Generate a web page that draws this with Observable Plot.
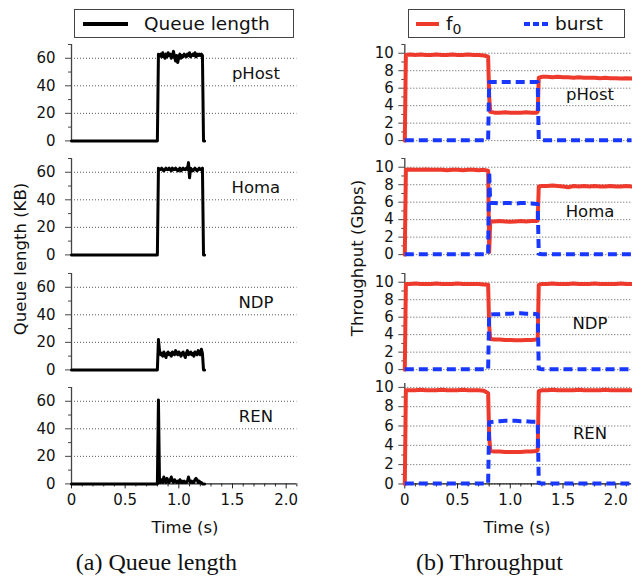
<!DOCTYPE html>
<html><head><meta charset="utf-8">
<script src="https://cdn.jsdelivr.net/npm/d3@7"></script>
<script src="https://cdn.jsdelivr.net/npm/@observablehq/plot@0.6"></script>
<style>
body{margin:0;background:#fff;}
#wrap{position:relative;width:632px;height:577px;overflow:hidden;font-family:"DejaVu Sans",sans-serif;}
#wrap svg{position:absolute;}
</style></head><body><div id="wrap"></div>
<script>
// ---------------- data ----------------
const schemes = ["pHost", "Homa", "NDP", "REN"];

// queue-length sample times (s)
const tQ = [0, 0.80, 0.81, 0.82, 0.83, 0.84, 0.85, 0.86, 0.87, 0.88, 0.89, 0.90, 0.91, 0.92,
  0.93, 0.94, 0.95, 0.96, 0.97, 0.98, 0.99, 1.00, 1.01, 1.02,
  1.03, 1.04, 1.05, 1.06, 1.07, 1.08, 1.09, 1.10, 1.11, 1.12,
  1.13, 1.14, 1.15, 1.16, 1.17, 1.18, 1.19, 1.20, 1.21, 1.22, 1.23, 1.24, 1.27, 2.10];

// queue length (KB)
const queuePHost = [0, 0,
  63, 62, 63, 61, 64, 62, 60, 63, 61, 64,
  62, 63, 60, 62, 65, 61, 58, 62, 57, 61,
  63, 60, 62, 61, 63, 62, 61, 63, 62, 64,
  61, 62, 63, 62, 64, 61, 63, 62, 63, 62, 63, 62,
  0, 0];
const queueHoma = [0, 0,
  63, 62, 62, 63, 62, 61, 62, 63, 62, 62,
  63, 62, 61, 63, 62, 62, 63, 62, 61, 62,
  63, 61, 62, 63, 62, 62, 63, 62, 67, 56,
  63, 62, 61, 62, 63, 62, 61, 62, 63, 62, 62, 63,
  0, 0];
const queueNDP = [0, 0,
  22, 14, 11, 12, 10, 13, 11, 9, 12, 13,
  11, 12, 10, 13, 12, 11, 14, 12, 11, 13,
  12, 10, 12, 13, 11, 9, 12, 14, 11, 12,
  13, 11, 12, 10, 13, 12, 11, 14, 12, 11, 15, 12,
  0, 0];
const queueREN = [0, 0,
  61, 1, 1, 3, 1, 5, 2, 1, 4, 2,
  1, 3, 5, 2, 1, 3, 2, 1, 2, 1,
  3, 1, 2, 1, 2, 1, 1, 2, 5, 2,
  1, 2, 1, 1, 3, 4, 3, 1, 2, 1, 1, 0,
  0, 0];

// throughput sample times (s)
const tT = [0, 0.01, 0.05, 0.10, 0.15, 0.20, 0.25, 0.30, 0.35, 0.40, 0.45, 0.50, 0.55, 0.60, 0.65, 0.70, 0.75,
  0.79, 0.80, 0.81,
  0.85, 0.90, 0.95, 1.00, 1.05, 1.10, 1.15, 1.20, 1.25,
  1.26, 1.27,
  1.30, 1.35, 1.40, 1.45, 1.50, 1.55, 1.60, 1.65, 1.70, 1.75, 1.80, 1.85, 1.90, 1.95, 2.00, 2.05, 2.10, 2.15];

// throughput (Gbps)
const f0PHost = [0, 9.8,
  9.85, 9.8, 9.85, 9.8, 9.8, 9.85, 9.8, 9.8, 9.85, 9.8, 9.8, 9.85, 9.8, 9.8, 9.75,
  9.6, 5.0, 3.3,
  3.2, 3.2, 3.25, 3.2, 3.2, 3.2, 3.25, 3.2, 3.2,
  3.3, 7.2,
  7.3, 7.3, 7.25, 7.3, 7.25, 7.25, 7.2, 7.25, 7.2, 7.2, 7.2, 7.15, 7.2, 7.15, 7.15, 7.1, 7.15, 7.1];
const burstPHost = [0.05, 0.05, 0.05, 0.05, 0.05, 0.05, 0.05, 0.05, 0.05, 0.05, 0.05, 0.05, 0.05, 0.05, 0.05, 0.05, 0.05,
  0.05, 6.7, 6.7,
  6.7, 6.7, 6.7, 6.7, 6.7, 6.7, 6.7, 6.7, 6.7,
  6.7, 0.1,
  0.05, 0.05, 0.05, 0.05, 0.05, 0.05, 0.05, 0.05, 0.05, 0.05, 0.05, 0.05, 0.05, 0.05, 0.05, 0.05, 0.05, 0.05];
const f0Homa = [0, 9.7,
  9.75, 9.7, 9.7, 9.75, 9.7, 9.7, 9.7, 9.65, 9.7, 9.7, 9.65, 9.7, 9.7, 9.65, 9.7,
  9.6, 0.3, 3.8,
  3.8, 3.85, 3.8, 3.75, 3.8, 3.85, 3.8, 3.85, 3.85,
  3.9, 7.8,
  7.85, 7.85, 7.9, 7.85, 7.8, 7.7, 7.85, 7.8, 7.85, 7.8, 7.85, 7.8, 7.8, 7.85, 7.8, 7.8, 7.85, 7.8];
const burstHoma = [0.05, 0.05, 0.05, 0.05, 0.05, 0.05, 0.05, 0.05, 0.05, 0.05, 0.05, 0.05, 0.05, 0.05, 0.05, 0.05, 0.05,
  0.05, 9.5, 5.9,
  5.9, 5.85, 5.9, 5.9, 5.85, 5.9, 5.9, 5.85, 5.8,
  5.8, 0.1,
  0.05, 0.05, 0.05, 0.05, 0.05, 0.05, 0.05, 0.05, 0.05, 0.05, 0.05, 0.05, 0.05, 0.05, 0.05, 0.05, 0.05, 0.05];
const f0NDP = [0, 9.8,
  9.8, 9.85, 9.8, 9.8, 9.8, 9.85, 9.8, 9.8, 9.8, 9.85, 9.8, 9.8, 9.8, 9.8, 9.75,
  9.7, 5.0, 3.5,
  3.45, 3.45, 3.4, 3.4, 3.35, 3.35, 3.4, 3.4, 3.45,
  3.5, 9.7,
  9.8, 9.8, 9.85, 9.8, 9.8, 9.8, 9.85, 9.8, 9.8, 9.8, 9.85, 9.8, 9.8, 9.8, 9.8, 9.85, 9.8, 9.8];
const burstNDP = [0.05, 0.05, 0.05, 0.05, 0.05, 0.05, 0.05, 0.05, 0.05, 0.05, 0.05, 0.05, 0.05, 0.05, 0.05, 0.05, 0.05,
  0.05, 6.3, 6.3,
  6.35, 6.35, 6.4, 6.4, 6.45, 6.45, 6.4, 6.4, 6.35,
  6.35, 0.1,
  0.05, 0.05, 0.05, 0.05, 0.05, 0.05, 0.05, 0.05, 0.05, 0.05, 0.05, 0.05, 0.05, 0.05, 0.05, 0.05, 0.05, 0.05];
const f0REN = [0, 9.7,
  9.7, 9.7, 9.75, 9.7, 9.7, 9.7, 9.75, 9.7, 9.7, 9.7, 9.75, 9.7, 9.7, 9.7, 9.65,
  9.4, 5.0, 3.4,
  3.35, 3.35, 3.3, 3.3, 3.3, 3.3, 3.35, 3.35, 3.4,
  3.5, 9.6,
  9.7, 9.7, 9.75, 9.7, 9.7, 9.7, 9.7, 9.75, 9.7, 9.7, 9.7, 9.7, 9.75, 9.7, 9.7, 9.7, 9.7, 9.7];
const burstREN = [0.05, 0.05, 0.05, 0.05, 0.05, 0.05, 0.05, 0.05, 0.05, 0.05, 0.05, 0.05, 0.05, 0.05, 0.05, 0.05, 0.05,
  0.05, 6.4, 6.4,
  6.45, 6.5, 6.55, 6.55, 6.55, 6.5, 6.5, 6.45, 6.45,
  6.4, 0.1,
  0.05, 0.05, 0.05, 0.05, 0.05, 0.05, 0.05, 0.05, 0.05, 0.05, 0.05, 0.05, 0.05, 0.05, 0.05, 0.05, 0.05, 0.05];

// ticks
const queueTicks = [0, 20, 40, 60];
const queueGrid = [20, 40, 60];
const queueMinorTicks = [10, 30, 50, 70];
const tputTicks = [0, 2, 4, 6, 8, 10];
const tputMinorTicks = [1, 3, 5, 7, 9, 11];
const timeTicks = [0, 0.5, 1, 1.5, 2];
const timeTickLabels = ["0", "0.5", "1.0", "1.5", "2.0"];
const timeMinorTicks = [0.1, 0.2, 0.3, 0.4, 0.6, 0.7, 0.8, 0.9, 1.1, 1.2, 1.3, 1.4, 1.6, 1.7, 1.8, 1.9, 2.1];

const queueBy = {pHost: queuePHost, Homa: queueHoma, NDP: queueNDP, REN: queueREN};
const f0By = {pHost: f0PHost, Homa: f0Homa, NDP: f0NDP, REN: f0REN};
const burstBy = {pHost: burstPHost, Homa: burstHoma, NDP: burstNDP, REN: burstREN};

// ---------------- drawing ----------------
const RED = "#ee3a2c", BLUE = "#1838ff";
const wrap = document.getElementById("wrap");
const fmtTime = d => timeTickLabels[timeTicks.indexOf(d)];
const Y0 = [140, 254.4, 368.9, 483.3];
const MT = 8;

// overlay: legends, axis titles, captions
const ov = `
<svg width="632" height="577" style="left:0;top:0" font-family="DejaVu Sans" fill="#111">
  <rect x="74.5" y="9.5" width="219" height="28" fill="#fff" stroke="#444" stroke-width="1"/>
  <line x1="83" x2="128" y1="24" y2="24" stroke="#000" stroke-width="4"/>
  <text x="144" y="30" font-size="18.5">Queue length</text>
  <rect x="408.5" y="9.5" width="216" height="28" fill="#fff" stroke="#444" stroke-width="1"/>
  <line x1="416" x2="439" y1="24" y2="24" stroke="${RED}" stroke-width="4"/>
  <text x="446" y="30" font-size="18.5">f<tspan font-size="14" dy="4">0</tspan></text>
  <line x1="524" x2="549" y1="24" y2="24" stroke="${BLUE}" stroke-width="4" stroke-dasharray="6,3"/>
  <text x="555" y="30" font-size="18.5">burst</text>
  <text transform="translate(20,259) rotate(-90)" text-anchor="middle" dominant-baseline="central" font-size="16.5">Queue length (KB)</text>
  <text transform="translate(357,258) rotate(-90)" text-anchor="middle" dominant-baseline="central" font-size="16.5">Throughput (Gbps)</text>
  <text x="185" y="533" text-anchor="middle" font-size="16.5">Time (s)</text>
  <text x="517" y="533" text-anchor="middle" font-size="16.5">Time (s)</text>
  <text x="156.5" y="570" text-anchor="middle" font-family="Liberation Serif" font-size="24">(a) Queue length</text>
  <text x="489.5" y="570" text-anchor="middle" font-family="Liberation Serif" font-size="24">(b) Throughput</text>
</svg>`;
wrap.insertAdjacentHTML("beforeend", ov);

function makePanel(o) {
  const marks = [
    Plot.gridY({ticks: o.grid, stroke: "#555", strokeOpacity: 1, strokeWidth: 1, strokeDasharray: "1,2"}),
    Plot.ruleX([0], {stroke: "#444", strokeWidth: 1.3}),
    Plot.axisY({ticks: o.yTicks, tickSize: 6, tickPadding: o.tickPadding, stroke: "#444", fill: "#111", label: null, tickFormat: d => String(d)}),
    Plot.axisY({ticks: o.yMinor, tickSize: 3, stroke: "#444", label: null, tickFormat: () => ""})
  ];
  if (o.bottom) {
    marks.push(
      Plot.ruleY([0], {stroke: "#222", strokeWidth: 1.3}),
      Plot.axisX({ticks: timeTicks, tickSize: 5, tickPadding: 5, stroke: "#222", fill: "#111", label: null, tickFormat: fmtTime}),
      Plot.axisX({ticks: timeMinorTicks, tickSize: 3, stroke: "#222", label: null, tickFormat: () => ""})
    );
  }
  marks.push(...o.series);
  marks.push(Plot.text([o.name], {text: d => d, frameAnchor: "top-right", dx: o.labelDx, dy: o.labelDy,
    textAnchor: "middle", lineAnchor: "middle", fontSize: 16.5, fill: "#111"}));
  const mb = o.bottom ? 32 : 3;
  const svg = Plot.plot({
    width: 316, height: MT + o.plotH + mb,
    marginLeft: o.ml, marginRight: o.mr, marginTop: MT, marginBottom: mb,
    x: {domain: o.xDomain, ...(o.bottom ? {} : {axis: null})},
    y: {domain: o.yDomain},
    style: {fontFamily: "DejaVu Sans", fontSize: "15px", color: "#111", background: "transparent", overflow: "visible"},
    marks
  });
  svg.style.left = o.left + "px";
  svg.style.top = (o.y0 - o.plotH - MT) + "px";
  wrap.appendChild(svg);
}

schemes.forEach((name, i) => {
  const bottom = i === schemes.length - 1;
  const qData = tQ.map((t, k) => ({t, v: queueBy[name][k]}));
  makePanel({
    name, bottom, left: 0, y0: Y0[i], plotH: 96.4, ml: 71, mr: 19.6,
    xDomain: [0, 2.1], yDomain: [0, 70],
    grid: queueGrid, yTicks: queueTicks, yMinor: queueMinorTicks, tickPadding: 10,
    labelDx: -41, labelDy: 29,
    series: [Plot.line(qData, {x: "t", y: "v", stroke: "#000", strokeWidth: 3})]
  });

  const fData = tT.map((t, k) => ({t, v: f0By[name][k]}));
  const bData = tT.map((t, k) => ({t, v: burstBy[name][k]}));
  const yTop = bottom ? 10.4 : 11;
  const unit = bottom ? 9.66 : 8.74;
  makePanel({
    name, bottom, left: 316, y0: Y0[i], plotH: yTop * unit, ml: 88.3, mr: 0.9,
    xDomain: [0, 2.15], yDomain: [0, yTop],
    grid: tputTicks, yTicks: tputTicks, yMinor: bottom ? tputMinorTicks.slice(0, 5) : tputMinorTicks, tickPadding: 5,
    labelDx: -41.6, labelDy: name === "Homa" ? 53 : 50,
    series: [
      Plot.line(fData, {x: "t", y: "v", stroke: RED, strokeWidth: 4}),
      Plot.line(bData, {x: "t", y: "v", stroke: BLUE, strokeWidth: 4, strokeDasharray: "9,5", strokeLinecap: "butt"})
    ]
  });
});
</script>
</body></html>
